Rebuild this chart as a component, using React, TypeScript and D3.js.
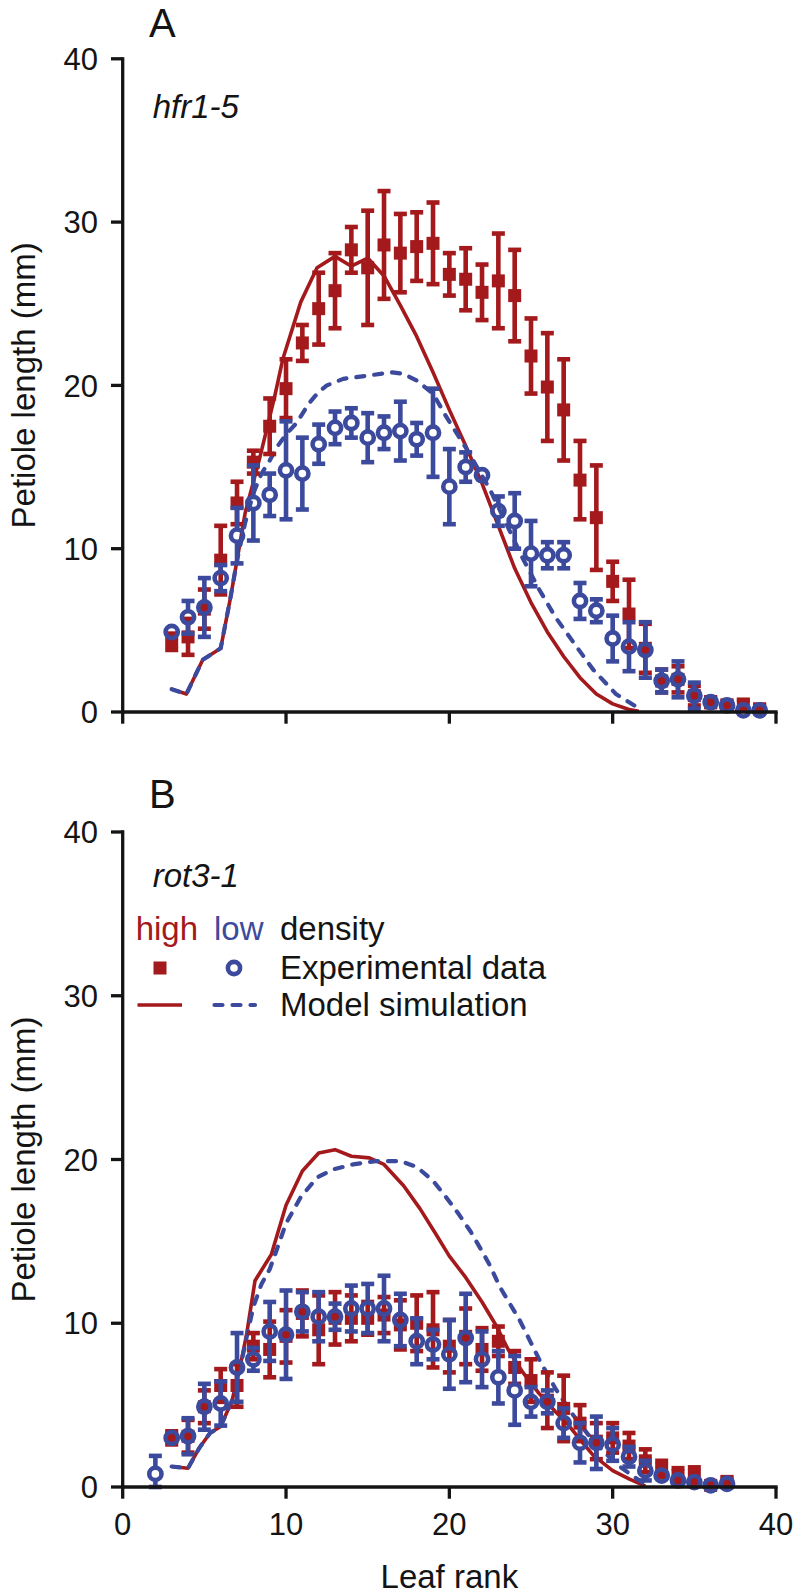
import React from "react";
import * as d3 from "d3";

// ---------- colours / fonts ----------
const RED = "#a3191c";
const BLUE = "#3c4a9d";
const INK = "#141414";
const FONT = "'Liberation Sans', Arial, Helvetica, sans-serif";

// ---------- axis ticks ----------
const yTicks = [0, 10, 20, 30, 40];
const xTicks = [0, 10, 20, 30, 40];

// ---------- Panel A (hfr1-5) ----------
const ranksA = [3, 4, 5, 6, 7, 8, 9, 10, 11, 12, 13, 14, 15, 16, 17, 18, 19, 20, 21, 22, 23, 24, 25, 26, 27, 28, 29, 30, 31, 32, 33, 34, 35, 36, 37, 38, 39];
const highA = [4.3, 4.6, 6.3, 9.3, 12.8, 15.3, 17.5, 19.8, 22.6, 24.7, 25.8, 28.3, 27.2, 28.6, 28.1, 28.5, 28.7, 26.8, 26.5, 25.7, 26.4, 25.5, 21.8, 19.9, 18.5, 14.2, 11.9, 8.0, 6.0, 3.9, 1.9, 2.0, 1.0, 0.6, 0.4, 0.45, 0.2];
const highAErr = [0.5, 1.1, 1.2, 2.1, 1.3, 0.7, 1.7, 1.8, 1.1, 2.2, 2.3, 1.4, 3.5, 3.3, 2.4, 2.1, 2.5, 1.3, 1.9, 1.7, 2.9, 2.8, 2.3, 3.3, 3.1, 2.4, 3.2, 1.2, 2.1, 1.5, 0.7, 0.8, 0.6, 0.3, 0.3, 0.3, 0.2];
const lowA = [4.9, 5.8, 6.4, 8.2, 10.8, 12.8, 13.3, 14.8, 14.6, 16.4, 17.4, 17.7, 16.8, 17.1, 17.2, 16.7, 17.1, 13.8, 15.0, 14.5, 12.3, 11.7, 9.7, 9.6, 9.6, 6.8, 6.2, 4.5, 4.0, 3.8, 1.9, 2.0, 1.0, 0.6, 0.4, 0.1, 0.1];
const lowAErr = [0.3, 1.0, 1.8, 0.8, 1.7, 2.3, 1.3, 3.0, 2.2, 1.2, 1.0, 0.9, 1.5, 1.0, 1.8, 1.0, 2.7, 2.3, 0.9, 0.4, 0.9, 1.7, 2.0, 0.8, 0.8, 1.1, 0.7, 1.4, 1.5, 1.7, 0.7, 1.1, 0.8, 0.4, 0.4, 0.2, 0.2];
const modelHighA: [number, number][] = [
  [3, 1.4], [3.9, 1.1], [4.9, 3.2], [6, 3.9], [6.6, 7.0], [7, 9.3], [7.5, 12.2], [8.4, 15.6], [9.3, 19.3], [9.8, 21.6],
  [10.9, 25.1], [11.9, 27.2], [13, 27.9], [14, 27.3], [15, 27.8], [16, 26.7], [17, 24.9], [18, 23.0], [19, 20.8], [20, 18.5],
  [21, 16.3], [22, 14.0], [23, 11.4], [24, 8.8], [25, 6.7], [26, 4.9], [27, 3.4], [28, 2.1], [29, 1.1], [30, 0.5], [31, 0.15], [31.6, 0.05],
];
const modelLowA: [number, number][] = [
  [3, 1.4], [3.9, 1.1], [4.9, 3.2], [6, 3.9], [6.6, 7.0], [7, 9.3], [7.5, 11.6], [8, 13.4], [8.5, 14.6], [9, 15.4],
  [9.5, 16.3], [10, 17.0], [10.65, 17.7], [11.4, 18.9], [12, 19.6], [12.5, 20.0], [13.5, 20.4], [15, 20.6], [16.5, 20.8], [17.2, 20.7],
  [18, 20.3], [19, 19.5], [19.8, 18.1], [21, 16.2], [22.5, 13.6], [23.5, 11.5], [24.5, 9.4], [25.5, 7.5], [26.5, 5.8], [27.5, 4.4],
  [28.8, 2.6], [30.2, 1.1], [31.65, 0.2],
];

// ---------- Panel B (rot3-1) ----------
const ranksBHigh = [3, 4, 5, 6, 7, 8, 9, 10, 11, 12, 13, 14, 15, 16, 17, 18, 19, 20, 21, 22, 23, 24, 25, 26, 27, 28, 29, 30, 31, 32, 33, 34, 35, 36, 37];
const highB = [3.0, 3.1, 4.9, 6.2, 6.2, 8.6, 8.4, 9.2, 10.6, 9.6, 10.3, 10.3, 10.3, 10.5, 9.9, 10.0, 9.6, 8.6, 9.2, 8.4, 8.9, 7.3, 6.5, 5.3, 4.8, 3.9, 2.8, 3.0, 2.5, 1.6, 1.1, 0.7, 0.7, 0.1, 0.3];
const highBErr = [0.4, 1.0, 1.0, 1.0, 1.3, 0.8, 1.7, 1.6, 1.4, 2.1, 1.6, 1.4, 1.0, 1.1, 1.5, 1.7, 2.3, 1.6, 1.7, 1.3, 0.9, 1.0, 1.3, 1.7, 2.0, 1.1, 1.1, 0.9, 0.8, 0.7, 0.5, 0.45, 0.5, 0.2, 0.3];
const ranksBLow = [2, 3, 4, 5, 6, 7, 8, 9, 10, 11, 12, 13, 14, 15, 16, 17, 18, 19, 20, 21, 22, 23, 24, 25, 26, 27, 28, 29, 30, 31, 32, 33, 34, 35, 36, 37];
const lowB = [0.8, 3.0, 3.1, 4.9, 5.1, 7.3, 7.8, 9.5, 9.3, 10.7, 10.4, 10.4, 10.9, 10.9, 10.9, 10.2, 8.9, 8.7, 8.1, 9.1, 7.8, 6.7, 5.9, 5.2, 5.2, 3.9, 2.7, 2.7, 2.6, 1.85, 1.0, 0.7, 0.4, 0.3, 0.1, 0.2];
const lowBErr = [1.1, 0.3, 1.1, 1.4, 1.35, 2.1, 0.7, 1.8, 2.7, 1.2, 1.5, 0.8, 1.4, 1.5, 2.0, 1.6, 1.4, 0.9, 2.1, 2.7, 1.7, 1.6, 2.1, 0.9, 0.7, 0.9, 1.2, 1.6, 1.0, 0.6, 0.6, 0.4, 0.3, 0.3, 0.2, 0.3];
const modelHighB: [number, number][] = [
  [3, 1.25], [4, 1.15], [4.7, 2.4], [5.35, 3.3], [6, 3.7], [6.7, 5.3], [7.2, 7.4], [7.6, 9.4], [8.1, 12.6], [9.1, 14.2],
  [10, 17.2], [11, 19.3], [12, 20.4], [13, 20.6], [14, 20.2], [15.1, 20.1], [16, 19.7], [17.2, 18.4], [18.2, 17.0], [19.2, 15.4],
  [20, 14.1], [21, 12.8], [22, 11.3], [22.9, 9.8], [23.6, 8.4], [24.5, 7.0], [25.5, 5.7], [26.5, 4.6], [27.2, 3.9], [28, 2.9],
  [28.8, 1.95], [30, 1.0], [31, 0.5], [32, 0.05],
];
const modelLowB: [number, number][] = [
  [3, 1.25], [4, 1.15], [4.7, 2.4], [5.35, 3.3], [6, 3.7], [6.7, 5.3], [7.2, 7.3], [7.6, 9.2], [8, 11.0], [8.5, 12.4],
  [9, 13.3], [9.4, 14.4], [10, 16.1], [10.9, 17.7], [11.9, 18.9], [12.9, 19.4], [14.1, 19.7], [15.5, 19.9], [17, 19.9], [18, 19.55],
  [19, 18.7], [19.8, 17.7], [20.55, 16.7], [21.3, 15.6], [22, 14.4], [22.5, 13.5], [23.1, 12.2], [23.7, 11.2], [24.3, 10.2], [24.9, 9.0],
  [25.6, 7.6], [26.5, 6.0], [27.5, 4.5], [28.5, 3.2], [29.5, 2.1], [30.5, 1.2], [31.2, 0.7], [32, 0.15],
];

// ---------- layout ----------
const W = 797;
const H = 1596;
const X0 = 122.7;
const X1 = 776;
const AXW = 3.3;
const TICK = 11.7;
const BARW = 4.6;
const CAPW = 13;
const SQ = 13;
const CR = 6.1;
const CSW = 4.6;

type PanelProps = {
  y0: number;
  y40: number;
  letter: string;
  letterY: number;
  geno: string;
  genoY: number;
  showXLabels: boolean;
  highRanks: number[];
  high: number[];
  highErr: number[];
  lowRanks: number[];
  low: number[];
  lowErr: number[];
  modelHigh: [number, number][];
  modelLow: [number, number][];
};

function Panel(p: PanelProps) {
  const x = d3.scaleLinear().domain([0, 40]).range([X0, X1]);
  const y = d3.scaleLinear().domain([0, 40]).range([p.y0, p.y40]);
  const line = d3
    .line<[number, number]>()
    .x((d) => x(d[0]))
    .y((d) => y(d[1]));

  return (
    <g>
      {/* model lines */}
      <path d={line(p.modelHigh) || ""} fill="none" stroke={RED} strokeWidth={3.6} strokeLinejoin="round" />
      <path
        d={line(p.modelLow) || ""}
        fill="none"
        stroke={BLUE}
        strokeWidth={4.2}
        strokeDasharray="8 10"
        strokeLinecap="round"
        strokeLinejoin="round"
      />
      {/* high density: squares */}
      {p.highRanks.map((r, i) => {
        const cx = x(r);
        const cy = y(p.high[i]);
        const yt = y(p.high[i] + p.highErr[i]);
        const yb = y(Math.max(0, p.high[i] - p.highErr[i]));
        return (
          <g key={"h" + r}>
            <line x1={cx} x2={cx} y1={yt} y2={yb} stroke={RED} strokeWidth={BARW} />
            <line x1={cx - CAPW / 2} x2={cx + CAPW / 2} y1={yt} y2={yt} stroke={RED} strokeWidth={BARW} />
            <line x1={cx - CAPW / 2} x2={cx + CAPW / 2} y1={yb} y2={yb} stroke={RED} strokeWidth={BARW} />
            <rect x={cx - SQ / 2} y={cy - SQ / 2} width={SQ} height={SQ} fill={RED} />
          </g>
        );
      })}
      {/* low density: open circles */}
      {p.lowRanks.map((r, i) => {
        const cx = x(r);
        const cy = y(p.low[i]);
        const yt = y(p.low[i] + p.lowErr[i]);
        const yb = y(Math.max(0, p.low[i] - p.lowErr[i]));
        const inner = CR + CSW / 2 - 1;
        return (
          <g key={"l" + r}>
            {cy - yt > inner && <line x1={cx} x2={cx} y1={yt} y2={cy - inner} stroke={BLUE} strokeWidth={BARW} />}
            {yb - cy > inner && <line x1={cx} x2={cx} y1={cy + inner} y2={yb} stroke={BLUE} strokeWidth={BARW} />}
            {cy - yt > inner && (
              <line x1={cx - CAPW / 2} x2={cx + CAPW / 2} y1={yt} y2={yt} stroke={BLUE} strokeWidth={BARW} />
            )}
            {yb - cy > inner && (
              <line x1={cx - CAPW / 2} x2={cx + CAPW / 2} y1={yb} y2={yb} stroke={BLUE} strokeWidth={BARW} />
            )}
            <circle cx={cx} cy={cy} r={CR} fill="none" stroke={BLUE} strokeWidth={CSW} />
          </g>
        );
      })}
      {/* axes */}
      <line x1={X0} x2={X0} y1={y(0)} y2={y(40)} stroke={INK} strokeWidth={AXW} strokeLinecap="square" />
      <line x1={x(0)} x2={x(40)} y1={y(0)} y2={y(0)} stroke={INK} strokeWidth={AXW} strokeLinecap="square" />
      {yTicks.map((t) => (
        <g key={"yt" + t}>
          <line x1={X0 - TICK} x2={X0} y1={y(t)} y2={y(t)} stroke={INK} strokeWidth={AXW} />
          <text x={X0 - TICK - 13} y={y(t)} dy="0.36em" textAnchor="end" fontSize={31} fontFamily={FONT} fill={INK}>
            {t}
          </text>
        </g>
      ))}
      {xTicks.map((t) => (
        <g key={"xt" + t}>
          <line x1={x(t)} x2={x(t)} y1={y(0)} y2={y(0) + TICK} stroke={INK} strokeWidth={AXW} />
          {p.showXLabels && (
            <text x={x(t)} y={y(0) + TICK + 14.3} dy="0.71em" textAnchor="middle" fontSize={31} fontFamily={FONT} fill={INK}>
              {t}
            </text>
          )}
        </g>
      ))}
      {/* y title */}
      <text
        transform={`translate(35,${(y(0) + y(40)) / 2}) rotate(-90)`}
        textAnchor="middle"
        fontSize={33}
        fontFamily={FONT}
        fill={INK}
      >
        Petiole length (mm)
      </text>
      {/* panel letter + genotype */}
      <text x={149} y={p.letterY} fontSize={40} fontFamily={FONT} fill={INK}>
        {p.letter}
      </text>
      <text x={152.7} y={p.genoY} fontSize={33} fontStyle="italic" fontFamily={FONT} fill={INK}>
        {p.geno}
      </text>
    </g>
  );
}

function Legend() {
  return (
    <g fontFamily={FONT} fontSize={33}>
      <text x={135.7} y={940} fill={RED}>high</text>
      <text x={214} y={940} fill={BLUE}>low</text>
      <text x={280} y={940} fill={INK}>density</text>
      <rect x={160 - SQ / 2} y={968 - SQ / 2} width={SQ} height={SQ} fill={RED} />
      <circle cx={234} cy={968} r={CR} fill="none" stroke={BLUE} strokeWidth={CSW} />
      <text x={280} y={979} fill={INK}>Experimental data</text>
      <line x1={137.5} x2={182} y1={1005} y2={1005} stroke={RED} strokeWidth={3.6} />
      <line
        x1={214.5}
        x2={255}
        y1={1005}
        y2={1005}
        stroke={BLUE}
        strokeWidth={4.2}
        strokeDasharray="8 10"
        strokeLinecap="round"
      />
      <text x={280} y={1016} fill={INK}>Model simulation</text>
    </g>
  );
}

export default function App() {
  React.useEffect(() => {
    document.body.style.margin = "0";
  }, []);
  const xMid = (X0 + X1) / 2;
  return (
    <svg
      width={W}
      height={H}
      viewBox={`0 0 ${W} ${H}`}
      style={{ position: "absolute", left: 0, top: 0, background: "#fff", display: "block" }}
    >
      <rect x={0} y={0} width={W} height={H} fill="#fff" />
      <Panel
        y0={712}
        y40={58.8}
        letter="A"
        letterY={37}
        geno="hfr1-5"
        genoY={118}
        showXLabels={false}
        highRanks={ranksA}
        high={highA}
        highErr={highAErr}
        lowRanks={ranksA}
        low={lowA}
        lowErr={lowAErr}
        modelHigh={modelHighA}
        modelLow={modelLowA}
      />
      <Panel
        y0={1487}
        y40={832}
        letter="B"
        letterY={808}
        geno="rot3-1"
        genoY={887}
        showXLabels={true}
        highRanks={ranksBHigh}
        high={highB}
        highErr={highBErr}
        lowRanks={ranksBLow}
        low={lowB}
        lowErr={lowBErr}
        modelHigh={modelHighB}
        modelLow={modelLowB}
      />
      <Legend />
      <text x={xMid} y={1588} textAnchor="middle" fontSize={33} fontFamily={FONT} fill={INK}>
        Leaf rank
      </text>
    </svg>
  );
}
